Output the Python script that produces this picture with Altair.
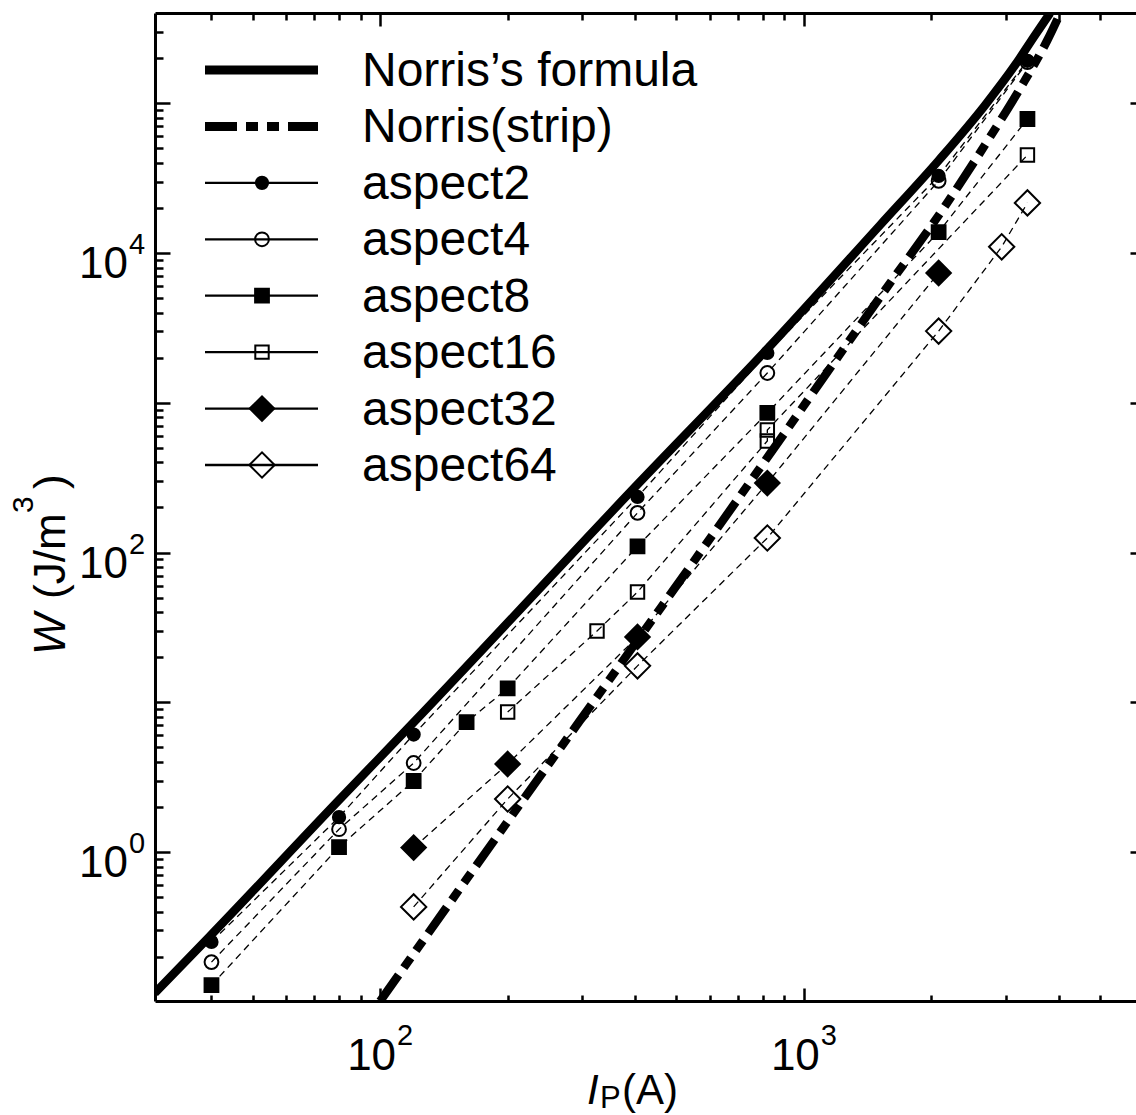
import altair as alt
import pandas as pd

FONT = "Liberation Sans"

# ---------------- data ----------------
# Norris's formula (solid curve)
norris_I = [29.4, 39.5, 80.0, 120.2, 408, 828, 1514, 2085, 2678, 3152, 3513, 3812]
norris_W = [0.1144, 0.2707, 2.225, 7.38, 291, 2357, 15380, 41800, 97300, 180100, 285600, 400600]
# Norris(strip) (dash-dot curve)
strip_I = [100, 169, 538, 828, 1555, 2179, 2798, 3243, 3757, 4029]
strip_W = [0.101, 0.819, 80.0, 448, 5660, 21600, 64300, 126500, 264500, 400600]

series_names = ["aspect2", "aspect4", "aspect8", "aspect16", "aspect32", "aspect64"]
aspect2_I = [40, 80, 120, 405, 820, 2080, 3370]
aspect2_W = [0.251, 1.71, 6.09, 235, 2150, 32700, 192000]
aspect4_I = [40, 80, 120, 405, 820, 2080, 3370]
aspect4_W = [0.184, 1.42, 3.93, 184, 1580, 30300, 188000]
aspect8_I = [40, 80, 120, 160, 200, 405, 820, 2080, 3370]
aspect8_W = [0.129, 1.08, 2.98, 7.38, 12.4, 110, 855, 13800, 78500]
aspect16_I = [200, 325, 405, 820, 820, 3370]
aspect16_W = [8.6, 29.9, 54.5, 556, 658, 45100]
aspect32_I = [120, 200, 405, 820, 2080]
aspect32_W = [1.07, 3.87, 27.3, 291, 7350]
aspect64_I = [120, 200, 405, 820, 2080, 2930, 3370]
aspect64_W = [0.430, 2.26, 17.5, 125, 3010, 11000, 21600]

legend_labels = ["Norris\u2019s formula", "Norris(strip)"] + series_names

ytick_vals = [1, 100, 10000]
ytick_exps = ["0", "2", "4"]
xtick_vals = [100, 1000]
xtick_exps = ["2", "3"]

y_major = [1, 10, 100, 1000, 10000, 100000]
y_minor = [m * 10 ** e for e in range(-1, 6) for m in range(2, 10) if 0.102 < m * 10 ** e < 390000]
x_major = [100, 1000]
x_minor = [m * 10 ** e for e in range(1, 4) for m in range(2, 10) if 31 < m * 10 ** e < 5900]

# ---------------- styles ----------------
marker_shape = {"aspect2": "circle", "aspect4": "circle", "aspect8": "square",
                "aspect16": "square", "aspect32": "diamond", "aspect64": "diamond"}
marker_fill = {"aspect2": "black", "aspect4": "transparent", "aspect8": "black",
               "aspect16": "transparent", "aspect32": "black", "aspect64": "transparent"}
marker_size = {"aspect2": 150, "aspect4": 190, "aspect8": 190,
               "aspect16": 180, "aspect32": 600, "aspect64": 640}

W_PLOT, H_PLOT = 981, 988
xs = alt.Scale(type="log", domain=[29.43, 6079], nice=False)
ys = alt.Scale(type="log", domain=[0.1012, 400600], nice=False)

# ---------------- tables ----------------
series_I = [aspect2_I, aspect4_I, aspect8_I, aspect16_I, aspect32_I, aspect64_I]
series_W = [aspect2_W, aspect4_W, aspect8_W, aspect16_W, aspect32_W, aspect64_W]
rows = []
for name, xi, wi in zip(series_names, series_I, series_W):
    for k, (a, b) in enumerate(zip(xi, wi)):
        rows.append({"series": name, "idx": k, "I": a, "W": b,
                     "shape": marker_shape[name], "fill": marker_fill[name],
                     "size": marker_size[name]})
pts_df = pd.DataFrame(rows)
norris_df = pd.DataFrame({"I": norris_I, "W": norris_W})
strip_df = pd.DataFrame({"I": strip_I, "W": strip_W})
one = pd.DataFrame({"_": [0]})

X = lambda: alt.X("I:Q", scale=xs, axis=None)
Y = lambda: alt.Y("W:Q", scale=ys, axis=None)


# ---------------- frame & ticks (inward ticks via negative offset) ----------------
def ax(orient, values=None, size=0, domain=False):
    kw = dict(orient=orient, labels=False, title=None, grid=False, domain=domain,
              ticks=size > 0, domainColor="black", domainWidth=3,
              tickColor="black", tickWidth=2.5)
    if size > 0:
        kw.update(values=values, tickSize=size, offset=-size)
    else:
        kw.update(offset=0)
    return alt.Axis(**kw)


x_axes = [ax("bottom", domain=True), ax("bottom", x_major, 13), ax("bottom", x_minor, 6),
          ax("top", domain=True), ax("top", x_major, 13), ax("top", x_minor, 7)]
y_axes = [ax("left", domain=True), ax("left", y_major, 15), ax("left", y_minor, 8),
          ax("right", y_major, 6), None, None]
axis_layers = [
    alt.Chart(norris_df).mark_point(opacity=0).encode(
        x=alt.X("I:Q", scale=xs, axis=xa), y=alt.Y("W:Q", scale=ys, axis=ya))
    for xa, ya in zip(x_axes, y_axes)
]

# ---------------- curves & series ----------------
solid = alt.Chart(norris_df).mark_line(color="black", strokeWidth=8.5, interpolate="monotone",
                                       clip=True).encode(x=X(), y=Y())
strip = alt.Chart(strip_df).mark_line(color="black", strokeWidth=8.5, interpolate="monotone",
                                      strokeDash=[32, 9, 12, 9, 12, 9], clip=True).encode(x=X(), y=Y())
dashed = alt.Chart(pts_df).mark_line(color="black", strokeWidth=1.3, strokeDash=[7, 5]).encode(
    x=X(), y=Y(), detail="series:N", order="idx:Q")
points = alt.Chart(pts_df).mark_point(filled=False, stroke="black", strokeWidth=2, opacity=1).encode(
    x=X(), y=Y(),
    shape=alt.Shape("shape:N", scale=None),
    fill=alt.Fill("fill:N", scale=None),
    size=alt.Size("size:Q", scale=None))

# ---------------- tick labels ----------------
ylab_df = pd.DataFrame({"W": ytick_vals, "e": ytick_exps})
xlab_df = pd.DataFrame({"I": xtick_vals, "e": xtick_exps})
ylab10 = alt.Chart(ylab_df).mark_text(font=FONT, fontSize=44, align="right", baseline="alphabetic",
                                      dy=25, text="10").encode(x=alt.value(-27), y=Y())
ylabexp = alt.Chart(ylab_df).mark_text(font=FONT, fontSize=29, align="left", baseline="alphabetic",
                                       dy=1).encode(x=alt.value(-26), y=Y(), text="e:N")
xlab10 = alt.Chart(xlab_df).mark_text(font=FONT, fontSize=44, align="right", baseline="alphabetic",
                                      dx=16, text="10").encode(x=X(), y=alt.value(H_PLOT + 69))
xlabexp = alt.Chart(xlab_df).mark_text(font=FONT, fontSize=29, align="left", baseline="alphabetic",
                                       dx=17).encode(x=X(), y=alt.value(H_PLOT + 44), text="e:N")

# ---------------- axis titles ----------------
def txt(s, x, y, size, italic=False, angle=None):
    kw = dict(text=s, font=FONT, fontSize=size, align="left", baseline="alphabetic")
    if italic:
        kw["fontStyle"] = "italic"
    if angle is not None:
        kw["angle"] = angle
    return alt.Chart(one).mark_text(**kw).encode(x=alt.value(x), y=alt.value(y))


titles = [
    txt("W", -90, 642, 44, italic=True, angle=270),
    txt("(J/m", -90, 586, 44, angle=270),
    txt("3", -122, 500, 30, angle=270),
    txt(")", -90, 476, 44, angle=270),
    txt("I", 432, 1091, 42, italic=True),
    txt("P", 445, 1095, 31),
    txt("(A)", 467, 1091, 42),
]

main = alt.layer(*axis_layers, solid, strip, dashed, points, ylab10, ylabexp, xlab10, xlabexp,
                 *titles).resolve_axis(x="independent", y="independent")

# ---------------- legend ----------------
leg_df = pd.DataFrame({"row": list(range(len(legend_labels))), "label": legend_labels})
leg_mk = pd.DataFrame({"row": list(range(2, 8)), "label": series_names,
                       "shape": [marker_shape[n] for n in series_names],
                       "fill": [marker_fill[n] for n in series_names],
                       "size": [marker_size[n] for n in series_names]})
leg_scale = alt.Scale(domain=[0, 7], range=[57, 452], nice=False, zero=False)
LY = lambda: alt.Y("row:Q", scale=leg_scale, axis=None)

leg_solid = alt.Chart(leg_df).transform_filter("datum.row == 0").mark_rule(
    color="black", strokeWidth=9).encode(x=alt.value(50), x2=alt.value(163), y=LY())
leg_strip = alt.Chart(leg_df).transform_filter("datum.row == 1").mark_rule(
    color="black", strokeWidth=9, strokeDash=[32, 9, 12, 9, 12, 9]).encode(
    x=alt.value(50), x2=alt.value(163), y=LY())
leg_thin = alt.Chart(leg_mk).mark_rule(color="black", strokeWidth=2.3).encode(
    x=alt.value(50), x2=alt.value(163), y=LY())
leg_pts = alt.Chart(leg_mk).mark_point(filled=False, stroke="black", strokeWidth=2, opacity=1).encode(
    x=alt.value(107), y=LY(),
    shape=alt.Shape("shape:N", scale=None),
    fill=alt.Fill("fill:N", scale=None),
    size=alt.Size("size:Q", scale=None))
leg_text = alt.Chart(leg_df).mark_text(font=FONT, fontSize=48, align="left", baseline="alphabetic",
                                       dy=16).encode(x=alt.value(207), y=LY(), text="label:N")
legend = alt.layer(leg_solid, leg_strip, leg_thin, leg_pts, leg_text)

chart = alt.layer(main, legend).resolve_scale(y="independent").resolve_axis(
    x="independent", y="independent").properties(
    width=W_PLOT, height=H_PLOT,
    autosize=alt.AutoSizeParams(type="none"),
    padding={"left": 155, "top": 13, "right": 0, "bottom": 114},
).configure_view(stroke=None)

chart.save("out.html", embed_options={"renderer": "svg", "actions": False})
